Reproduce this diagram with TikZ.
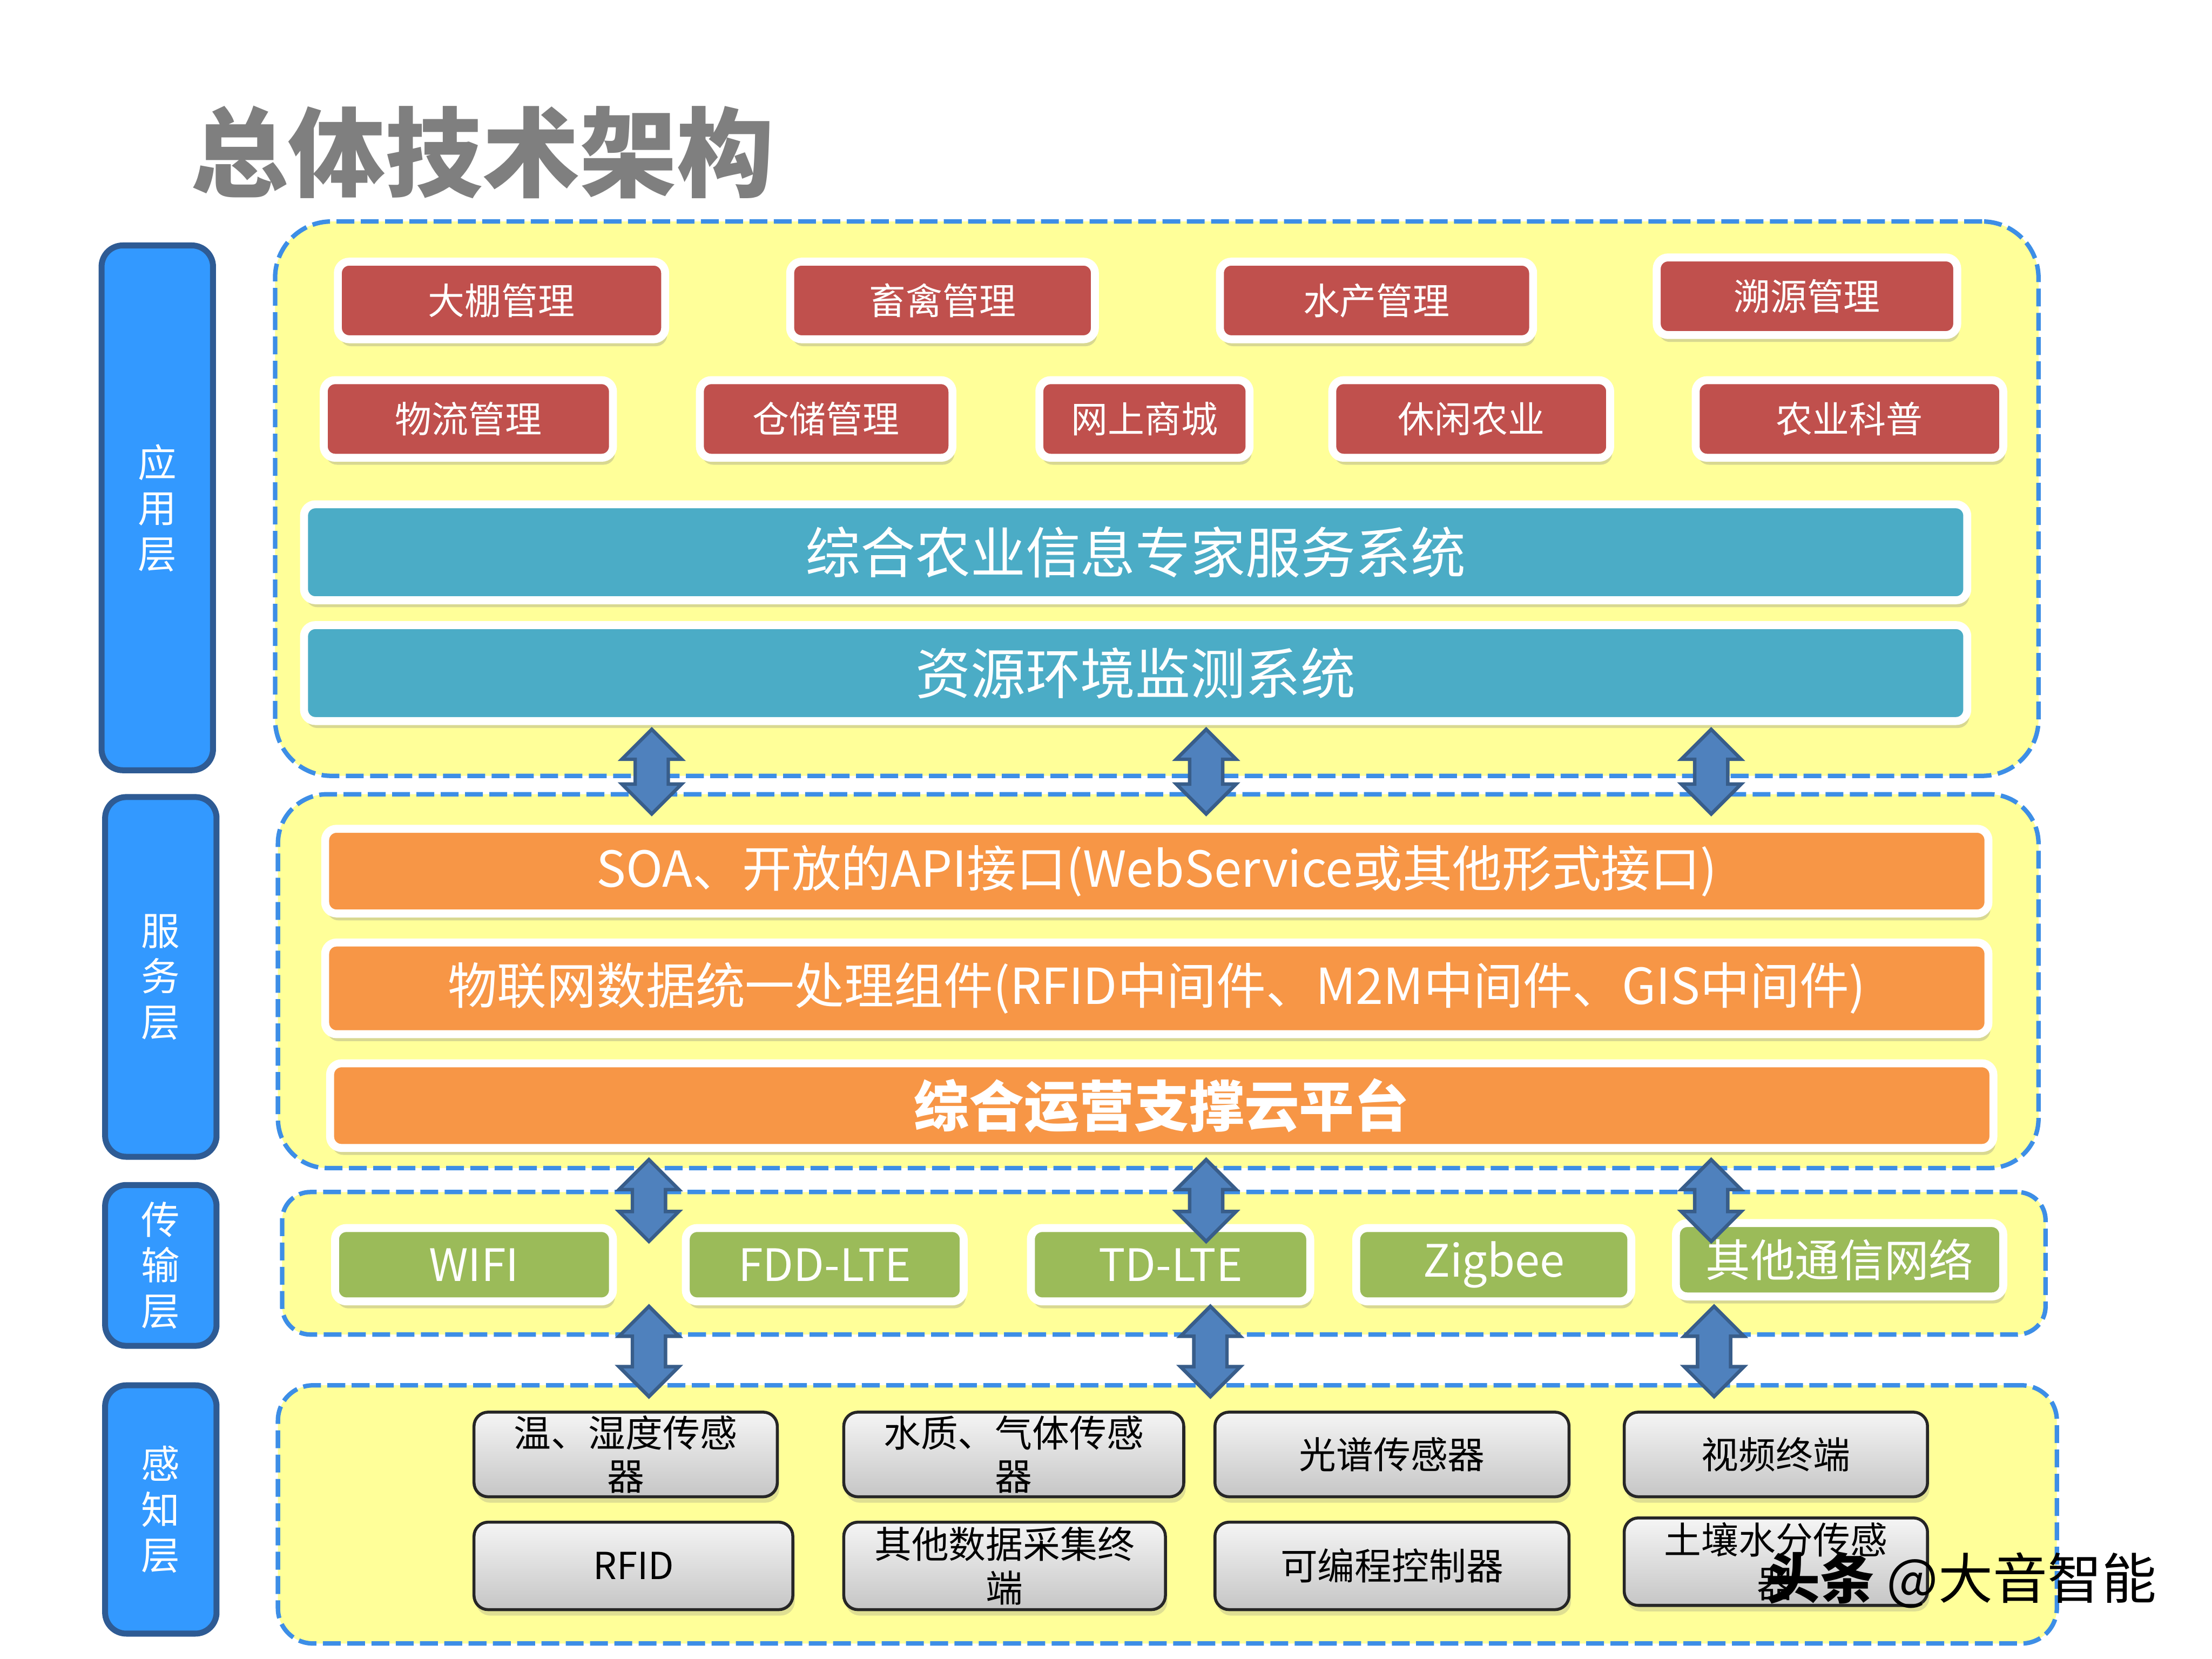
\documentclass[tikz,border=0pt]{standalone}
\usepackage{fontspec}
\setmainfont{Noto Sans CJK SC}
\usetikzlibrary{positioning, shapes.arrows, shadows}
\definecolor{titlegray}{HTML}{7F7F7F}
\definecolor{layerblue}{HTML}{3399FF}
\definecolor{layeredge}{HTML}{2E5B94}
\definecolor{zonefill}{HTML}{FFFF99}
\definecolor{zonedash}{HTML}{3D8EE6}
\definecolor{appred}{HTML}{C0504D}
\definecolor{systeal}{HTML}{4BACC6}
\definecolor{svcorange}{HTML}{F79646}
\definecolor{netgreen}{HTML}{9BBB59}
\definecolor{arrowfill}{HTML}{4F81BD}
\definecolor{arrowedge}{HTML}{385D8A}

\begin{document}
\begin{tikzpicture}[
    layer/.style={rectangle, rounded corners=0.15cm, fill=layerblue, draw=layeredge,
                  line width=1.2pt, text=white, align=center, inner sep=0pt,
                  minimum width=0.79cm, font=\fontsize{7.8}{9.2}\selectfont},
    zone/.style={rectangle, rounded corners=0.35cm, fill=zonefill, draw=zonedash,
                 line width=0.9pt, dash pattern=on 3.6pt off 1.3pt},
    colbox/.style={rectangle, rounded corners=0.08cm, draw=white, line width=1.6pt,
                   text=white, inner sep=0pt, align=center,
                   drop shadow={opacity=0.3, shadow xshift=0.4pt, shadow yshift=-1.4pt}},
    appbox/.style={colbox, fill=appred, minimum height=0.55cm,
                   font=\fontsize{7.4}{9}\selectfont},
    sysbar/.style={colbox, fill=systeal, minimum width=11.79cm, minimum height=0.68cm,
                   font=\fontsize{11.1}{13}\selectfont},
    svcbar/.style={colbox, fill=svcorange, minimum width=11.79cm, minimum height=0.60cm,
                   font=\fontsize{10}{12}\selectfont},
    netbox/.style={colbox, fill=netgreen, minimum height=0.52cm,
                   font=\fontsize{9}{11}\selectfont},
    sensebox/.style={rectangle, rounded corners=0.1cm, draw=black!85, line width=0.6pt,
                     top color=gray!8, bottom color=gray!45, inner sep=0pt, align=center,
                     minimum height=0.60cm, font=\fontsize{7.5}{8.8}\selectfont,
                     drop shadow={opacity=0.25, shadow xshift=0.4pt, shadow yshift=-1.2pt}},
    updown/.style={double arrow, rotate=90, fill=arrowfill, draw=arrowedge,
                   line width=0.7pt, inner sep=0pt, inner ysep=0.105cm,
                   double arrow head extend=0.095cm, double arrow head indent=0cm,
                   minimum height=0.6cm},
  ]
  \useasboundingbox (0,0) rectangle (15.68,-11.76);

  % title
  \node[text=titlegray, font=\fontsize{19.6}{22}\bfseries\selectfont] (title)
    at (3.42,-1.08) {总体技术架构};

  % layer labels
  \node[layer, minimum height=3.72cm] (lapp) at (1.115,-3.60) {应\\用\\层};
  \node[layer, minimum height=2.55cm] (lsvc) at (1.14,-6.925) {服\\务\\层};
  \node[layer, minimum height=1.14cm] (lnet) at (1.14,-8.97) {传\\输\\层};
  \node[layer, minimum height=1.76cm] (lsense) at (1.14,-10.70) {感\\知\\层};

  % dashed zones
  \node[zone, rounded corners=0.4cm, minimum width=12.50cm, minimum height=3.93cm]
    (appzone) at (8.20,-3.535) {};
  \node[zone, minimum width=12.48cm, minimum height=2.65cm] (svczone) at (8.21,-6.955) {};
  \node[zone, rounded corners=0.2cm, minimum width=12.50cm, minimum height=1.01cm]
    (netzone) at (8.25,-8.955) {};
  \node[zone, rounded corners=0.25cm, minimum width=12.61cm, minimum height=1.83cm]
    (sensezone) at (8.275,-10.735) {};

  % application layer
  \node[appbox, minimum width=2.32cm] (dapeng) at (3.555,-2.13) {大棚管理};
  \node[appbox, minimum width=2.16cm, right=0.83cm of dapeng] (chuqin) {畜禽管理};
  \node[appbox, minimum width=2.22cm, right=0.83cm of chuqin] (shuichan) {水产管理};
  \node[appbox, minimum width=2.13cm, right=0.82cm of shuichan, yshift=0.03cm] (suyuan) {溯源管理};

  \node[appbox, minimum width=2.05cm] (wuliu) at (3.32,-2.97) {物流管理};
  \node[appbox, minimum width=1.79cm, right=0.56cm of wuliu] (cangchu) {仓储管理};
  \node[appbox, minimum width=1.49cm, right=0.56cm of cangchu] (shangcheng) {网上商城};
  \node[appbox, minimum width=1.97cm, right=0.53cm of shangcheng] (xiuxian) {休闲农业};
  \node[appbox, minimum width=2.18cm, right=0.55cm of xiuxian] (kepu) {农业科普};

  \node[sysbar] (expert) at (8.05,-3.915) {综合农业信息专家服务系统};
  \node[sysbar, below=0.12cm of expert] (monitor) {资源环境监测系统};

  % service layer
  \node[svcbar] (soa) at (8.20,-6.175) {SOA、开放的API接口(WebService或其他形式接口)};
  \node[svcbar, minimum height=0.65cm, below=0.15cm of soa] (iotmid)
    {物联网数据统一处理组件(RFID中间件、M2M中间件、GIS中间件)};
  \node[svcbar, below=0.15cm of iotmid, xshift=0.035cm, font=\fontsize{11.1}{13}\bfseries\selectfont]
    (cloud) {综合运营支撑云平台};

  % transport layer
  \node[netbox, minimum width=1.97cm] (wifi) at (3.36,-8.965) {WIFI};
  \node[netbox, minimum width=1.97cm, right=0.46cm of wifi] (fdd) {FDD-LTE};
  \node[netbox, minimum width=1.98cm, right=0.42cm of fdd] (tdd) {TD-LTE};
  \node[netbox, minimum width=1.95cm, right=0.27cm of tdd] (zigbee) {Zigbee};
  \node[netbox, minimum width=2.32cm, right=0.26cm of zigbee, yshift=0.035cm] (othernet) {其他通信网络};

  % sensing layer
  \node[sensebox, minimum width=2.15cm] (temp) at (4.435,-10.31) {温、湿度传感\\器};
  \node[sensebox, minimum width=2.41cm, right=0.45cm of temp] (water) {水质、气体传感\\器};
  \node[sensebox, minimum width=2.51cm, right=0.20cm of water] (spectrum) {光谱传感器};
  \node[sensebox, minimum width=2.15cm, right=0.37cm of spectrum] (video) {视频终端};

  \node[sensebox, minimum width=2.26cm, minimum height=0.62cm] (rfid) at (4.49,-11.10) {RFID};
  \node[sensebox, minimum width=2.28cm, minimum height=0.62cm, right=0.34cm of rfid] (collect) {其他数据采集终\\端};
  \node[sensebox, minimum width=2.51cm, minimum height=0.62cm, right=0.33cm of collect] (plc) {可编程控制器};
  \node[sensebox, minimum width=2.15cm, minimum height=0.62cm, right=0.37cm of plc, yshift=0.03cm] (soil) {土壤水分传感\\器};

  % links between layers
  \foreach \x/\n in {4.62/1, 8.55/2, 12.13/3}
    \node[updown] (linkA\n) at (\x,-5.47) {};
  \foreach \x/\n in {4.60/1, 8.55/2, 12.13/3}
    \node[updown, minimum height=0.58cm] (linkB\n) at (\x,-8.51) {};
  \foreach \x/\n in {4.60/1, 8.58/2, 12.15/3}
    \node[updown, minimum height=0.64cm] (linkC\n) at (\x,-9.58) {};

  % watermark
  \node[font=\fontsize{11}{13}\selectfont] (mark) at (13.9,-11.2) {{\bfseries 头条} @大音智能};
\end{tikzpicture}
\end{document}
